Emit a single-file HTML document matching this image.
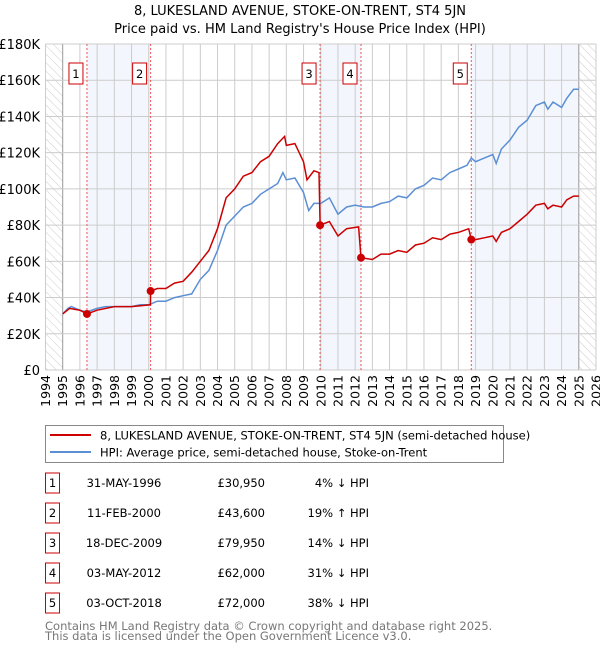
<!DOCTYPE html>
<html><head><meta charset="utf-8"><style>
body{margin:0;background:#fff;font-family:"Liberation Sans","DejaVu Sans",sans-serif}
svg text{font-family:"DejaVu Sans","Liberation Sans",sans-serif}
</style></head><body>
<svg id="c" width="600" height="650" viewBox="0 0 600 650" xmlns="http://www.w3.org/2000/svg">
<defs><pattern id="hatch" width="6" height="6" patternUnits="userSpaceOnUse" patternTransform="rotate(-45)"><line x1="0" y1="0" x2="0" y2="6" stroke="#ccc" stroke-width="1"/></pattern></defs>
<text x="300" y="15" text-anchor="middle" font-size="13">8, LUKESLAND AVENUE, STOKE-ON-TRENT, ST4 5JN</text>
<text x="300" y="33" text-anchor="middle" font-size="13">Price paid vs. HM Land Registry's House Price Index (HPI)</text>
<g id="plot"></g>
<rect x="45.5" y="425.5" width="458" height="37" fill="#fff" stroke="#888"/>
<line x1="50" y1="435" x2="91" y2="435" stroke="#cc0000" stroke-width="2"/>
<text x="100" y="439.5" font-size="11.5">8, LUKESLAND AVENUE, STOKE-ON-TRENT, ST4 5JN (semi-detached house)</text>
<line x1="50" y1="452" x2="91" y2="452" stroke="#5b8fd4" stroke-width="2"/>
<text x="100" y="456.5" font-size="11.5">HPI: Average price, semi-detached house, Stoke-on-Trent</text>
<g id="table" font-size="11.5"></g>
<text x="45" y="630" font-size="11.5" fill="#777">Contains HM Land Registry data © Crown copyright and database right 2025.</text>
<text x="45" y="640" font-size="11.5" fill="#777">This data is licensed under the Open Government Licence v3.0.</text>
</svg>
<script>
const yearTicks=[1994,1995,1996,1997,1998,1999,2000,2001,2002,2003,2004,2005,2006,2007,2008,2009,2010,2011,2012,2013,2014,2015,2016,2017,2018,2019,2020,2021,2022,2023,2024,2025,2026];
const priceTicks=[0,20,40,60,80,100,120,140,160,180];
const hpiT=[1995,1995.3,1995.5,1996,1996.4,1997,1997.5,1998,1998.5,1999,1999.5,2000,2000.5,2001,2001.5,2002,2002.5,2003,2003.5,2004,2004.5,2005,2005.5,2006,2006.5,2007,2007.5,2007.8,2008,2008.5,2009,2009.3,2009.6,2010,2010.5,2011,2011.5,2012,2012.5,2013,2013.5,2014,2014.5,2015,2015.5,2016,2016.5,2017,2017.5,2018,2018.5,2018.75,2019,2019.5,2020,2020.2,2020.5,2021,2021.5,2022,2022.5,2023,2023.2,2023.5,2024,2024.3,2024.7,2025];
const hpiV=[31,34,35,33,32,34,35,35,35,35,36,36,38,38,40,41,42,50,55,66,80,85,90,92,97,100,103,109,105,106,98,88,92,92,95,86,90,91,90,90,92,93,96,95,100,102,106,105,109,111,113,117,115,117,119,114,122,127,134,138,146,148,144,148,145,150,155,155];
const propT=[1995,1995.4,1996,1996.41,1997,1998,1999,2000.1,2000.11,2000.5,2001,2001.5,2002,2002.5,2003,2003.5,2004,2004.5,2005,2005.5,2006,2006.5,2007,2007.5,2007.9,2008,2008.5,2009,2009.2,2009.6,2009.9,2009.96,2010.5,2011,2011.5,2012.2,2012.34,2013,2013.5,2014,2014.5,2015,2015.5,2016,2016.5,2017,2017.5,2018,2018.6,2018.75,2019,2019.5,2020,2020.2,2020.5,2021,2021.5,2022,2022.5,2023,2023.2,2023.5,2024,2024.3,2024.7,2025];
const propV=[31,34,33,30.95,33,35,35,36,43.6,45,45,48,49,54,60,66,78,95,100,107,109,115,118,125,129,124,125,115,105,110,109,79.95,82,74,78,79,62,61,64,64,66,65,69,70,73,72,75,76,78,72,72,73,74,71,76,78,82,86,91,92,89,91,90,94,96,96];
const saleT=[1996.41,2000.11,2009.96,2012.34,2018.75];
const saleV=[30.95,43.6,79.95,62,72];
const saleDates=["31-MAY-1996","11-FEB-2000","18-DEC-2009","03-MAY-2012","03-OCT-2018"];
const salePrices=["£30,950","£43,600","£79,950","£62,000","£72,000"];
const saleHpi=["4% ↓ HPI","19% ↑ HPI","14% ↓ HPI","31% ↓ HPI","38% ↓ HPI"];
const NS="http://www.w3.org/2000/svg";
const L=45.5,R=596,T=44,B=370;
const X=t=>L+(t-1994)*(R-L)/32, Y=v=>B-v*(B-T)/180;
const g=document.getElementById('plot');
function mk(tag,a,p){const e=document.createElementNS(NS,tag);for(const k in a)e.setAttribute(k,a[k]);(p||g).appendChild(e);return e;}
let e;
e=mk('rect',{x:L,y:T,width:R-L,height:B-T,fill:'#fff'});


e=mk('rect',{x:L,y:T,width:X(1995)-L,height:B-T,fill:'url(#hatch)'});


e=mk('rect',{x:X(2025),y:T,width:R-X(2025),height:B-T,fill:'url(#hatch)'});


[[0,1],[2,3],[4,-1]].forEach((p,i)=>{const a=X(saleT[p[0]]),b=p[1]<0?X(2025):X(saleT[p[1]]);
e=mk('rect',{x:a,y:T,width:b-a,height:B-T,fill:'#eef3fc',opacity:0.7});

});
yearTicks.forEach(y=>{e=mk('line',{x1:X(y),x2:X(y),y1:T,y2:B,stroke:(y==1995||y==2025)?'#999':'#ccc','stroke-width':1});


e=mk('text',{x:0,y:0,'font-size':12.5,'text-anchor':'end',transform:`translate(${X(y)+4.5},375) rotate(-90)`});e.textContent=y;

});
priceTicks.forEach(v=>{e=mk('line',{x1:L,x2:R,y1:Y(v),y2:Y(v),stroke:'#ccc','stroke-width':1});


e=mk('text',{x:40,y:Y(v)+5,'font-size':13,'text-anchor':'end'});e.textContent=v==0?'£0':'£'+v+'K';

});
saleT.forEach((t,i)=>{e=mk('line',{x1:X(t),x2:X(t),y1:T,y2:B,stroke:'#e55','stroke-width':1,'stroke-dasharray':'2,2'});

});
const path=(ts,vs)=>ts.map((t,i)=>(i?'L':'M')+X(t).toFixed(1)+','+Y(vs[i]).toFixed(1)).join('');
e=mk('path',{d:path(hpiT,hpiV),fill:'none',stroke:'#5b8fd4','stroke-width':1.5});


e=mk('path',{d:path(propT,propV),fill:'none',stroke:'#cc0000','stroke-width':1.5});


saleT.forEach((t,i)=>{e=mk('circle',{cx:X(t),cy:Y(saleV[i]),r:4,fill:'#cc0000'});


const bx=X(t)-11;
e=mk('rect',{x:bx-7,y:63,width:14,height:21,fill:'#fff',stroke:'#cc0000'});


e=mk('text',{x:bx,y:78,'font-size':11.5,'text-anchor':'middle'});e.textContent=i+1;

});
const tb=document.getElementById('table');
saleDates.forEach((d,i)=>{const cy=483+i*30;
e=mk('rect',{x:45.5,y:cy-10,width:14,height:20,fill:'#fff',stroke:'#cc0000'},tb);


e=mk('text',{x:52.5,y:cy+4,'text-anchor':'middle'},tb);e.textContent=i+1;


e=mk('text',{x:124,y:cy+4,'text-anchor':'middle'},tb);e.textContent=d;


e=mk('text',{x:265,y:cy+4,'text-anchor':'end'},tb);e.textContent=salePrices[i];


e=mk('text',{x:369,y:cy+4,'text-anchor':'end'},tb);e.textContent=saleHpi[i];

});
</script>
</body></html>
